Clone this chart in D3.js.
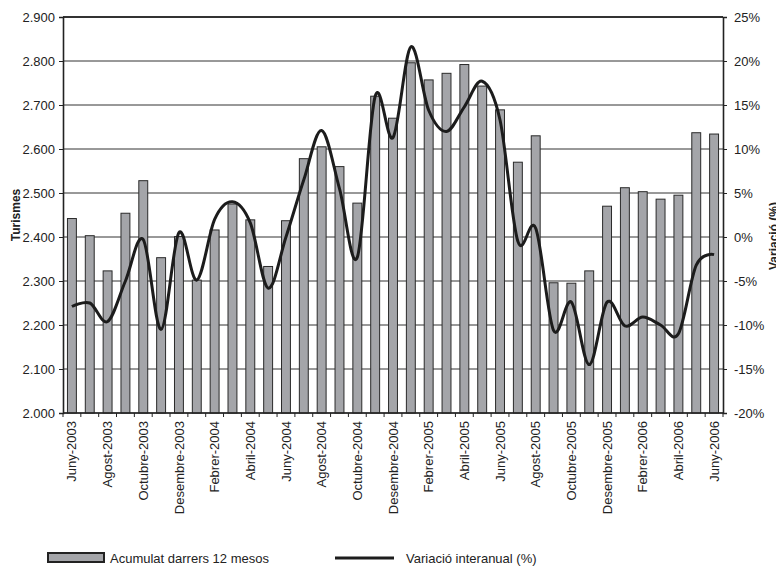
<!DOCTYPE html>
<html>
<head>
<meta charset="utf-8">
<script src="https://cdn.jsdelivr.net/npm/d3@7"></script>
<style>
  body { margin: 0; background: #fff; }
  svg { display: block; font-family: "Liberation Sans", Arial, sans-serif; }
</style>
</head>
<body>
<div id="chart"></div>
<script>
var months = ["Juny-2003","Juliol-2003","Agost-2003","Setembre-2003","Octubre-2003","Novembre-2003",
  "Desembre-2003","Gener-2004","Febrer-2004","Març-2004","Abril-2004","Maig-2004",
  "Juny-2004","Juliol-2004","Agost-2004","Setembre-2004","Octubre-2004","Novembre-2004",
  "Desembre-2004","Gener-2005","Febrer-2005","Març-2005","Abril-2005","Maig-2005",
  "Juny-2005","Juliol-2005","Agost-2005","Setembre-2005","Octubre-2005","Novembre-2005",
  "Desembre-2005","Gener-2006","Febrer-2006","Març-2006","Abril-2006","Maig-2006","Juny-2006"];
// acumulat darrers 12 mesos (turismes)
var acumulat = [2442,2403,2323,2454,2528,2353,2401,2302,2416,2475,2439,2333,
  2437,2578,2605,2560,2477,2720,2670,2796,2757,2772,2792,2743,
  2689,2570,2630,2296,2295,2323,2470,2512,2503,2486,2495,2637,2634];
// variació interanual (%)
var variacio = [-7.9,-7.5,-9.6,-5.0,-0.3,-10.5,0.5,-4.9,2.0,4.0,1.6,-5.8,
  0.0,6.5,12.1,5.5,-2.3,16.0,11.3,21.6,14.4,12.0,14.8,17.7,
  13.3,-0.5,1.0,-10.6,-7.4,-14.5,-7.4,-10.1,-9.1,-10.0,-11.0,-3.2,-2.0];
var leftTicks = [2000,2100,2200,2300,2400,2500,2600,2700,2800,2900];
var rightTicks = [-20,-15,-10,-5,0,5,10,15,20,25];
var seriesNames = ["Acumulat darrers 12 mesos", "Variació interanual (%)"];

var width = 776, height = 567;
var pLeft = 63, pRight = 723, pTop = 17, pBottom = 413;

var svg = d3.select("#chart").append("svg")
    .attr("width", width)
    .attr("height", height);

var x = d3.scaleBand().domain(months).range([pLeft, pRight]);
var y = d3.scaleLinear().domain([2000, 2900]).range([pBottom, pTop]);
var y2 = d3.scaleLinear().domain([-20, 25]).range([pBottom, pTop]);

var loc = d3.formatLocale({decimal: ",", thousands: ".", grouping: [3], currency: ["", ""]});
var fmt = loc.format(",");

// gridlines
svg.append("g")
  .selectAll("line")
  .data(leftTicks)
  .enter().append("line")
  .attr("x1", pLeft).attr("x2", pRight)
  .attr("y1", function(d) { return y(d); })
  .attr("y2", function(d) { return y(d); })
  .attr("stroke", "#333")
  .attr("stroke-width", function(d) { return d === 2900 ? 2 : 1; });

// bars
var bw = x.bandwidth() * 0.5;
svg.append("g")
  .selectAll("rect")
  .data(acumulat)
  .enter().append("rect")
  .attr("x", function(d, i) { return x(months[i]) + (x.bandwidth() - bw) / 2; })
  .attr("y", function(d) { return y(d); })
  .attr("width", bw)
  .attr("height", function(d) { return pBottom - y(d); })
  .attr("fill", "#a4a5a9")
  .attr("stroke", "#2a2a2a")
  .attr("stroke-width", 1);

// line
var line = d3.line()
  .x(function(d, i) { return x(months[i]) + x.bandwidth() / 2; })
  .y(function(d) { return y2(d); })
  .curve(d3.curveCatmullRom.alpha(0));
svg.append("path")
  .datum(variacio)
  .attr("d", line)
  .attr("fill", "none")
  .attr("stroke", "#1c1c1c")
  .attr("stroke-width", 3);

// left axis
var gl = svg.append("g")
  .attr("transform", "translate(" + pLeft + ",0)")
  .call(d3.axisLeft(y).tickValues(leftTicks).tickFormat(fmt).tickSize(4).tickPadding(4));
// right axis
var gr = svg.append("g")
  .attr("transform", "translate(" + pRight + ",0)")
  .call(d3.axisRight(y2).tickValues(rightTicks).tickFormat(function(d) { return d + "%"; }).tickSize(4).tickPadding(7));
[gl, gr].forEach(function(g) {
  g.select(".domain").attr("stroke", "#222").attr("stroke-width", 1.6);
  g.selectAll(".tick line").attr("stroke", "#222");
  g.selectAll(".tick text").attr("font-size", 13).attr("fill", "#222")
    .attr("font-family", "'Liberation Sans', Arial, sans-serif");
});

// bottom axis with ticks at category boundaries
svg.append("line")
  .attr("x1", pLeft).attr("x2", pRight)
  .attr("y1", pBottom).attr("y2", pBottom)
  .attr("stroke", "#222").attr("stroke-width", 1.6);
svg.append("g")
  .selectAll("line")
  .data(months.concat(["end"]))
  .enter().append("line")
  .attr("x1", function(d, i) { return pLeft + i * x.step(); })
  .attr("x2", function(d, i) { return pLeft + i * x.step(); })
  .attr("y1", pBottom).attr("y2", pBottom + 4)
  .attr("stroke", "#222");

svg.append("g")
  .selectAll("text")
  .data(months.filter(function(d, i) { return i % 2 === 0; }))
  .enter().append("text")
  .attr("transform", function(d) {
    return "translate(" + (x(d) + x.bandwidth() / 2) + "," + (pBottom + 8) + ") rotate(-90)";
  })
  .attr("text-anchor", "end")
  .attr("dy", "0.35em")
  .attr("font-size", 13)
  .attr("fill", "#222")
  .text(function(d) { return d; });

// axis titles
svg.append("text")
  .attr("transform", "translate(20," + ((pTop + pBottom) / 2) + ") rotate(-90)")
  .attr("text-anchor", "middle")
  .attr("font-size", 12)
  .attr("font-weight", "bold")
  .attr("fill", "#222")
  .text("Turismes");
svg.append("text")
  .attr("transform", "translate(778,236) rotate(-90)")
  .attr("text-anchor", "middle")
  .attr("font-size", 12)
  .attr("font-weight", "bold")
  .attr("fill", "#222")
  .text("Variació (%)");

// legend
var lg = svg.append("g");
lg.append("rect")
  .attr("x", 48).attr("y", 553).attr("width", 56).attr("height", 9)
  .attr("fill", "#a4a5a9").attr("stroke", "#222").attr("stroke-width", 2);
lg.append("text")
  .attr("x", 110).attr("y", 563)
  .attr("font-size", 13).attr("fill", "#222")
  .text(seriesNames[0]);
lg.append("line")
  .attr("x1", 335).attr("x2", 394).attr("y1", 558).attr("y2", 558)
  .attr("stroke", "#1c1c1c").attr("stroke-width", 3);
lg.append("text")
  .attr("x", 406).attr("y", 563)
  .attr("font-size", 13).attr("fill", "#222")
  .text(seriesNames[1]);
</script>
</body>
</html>
